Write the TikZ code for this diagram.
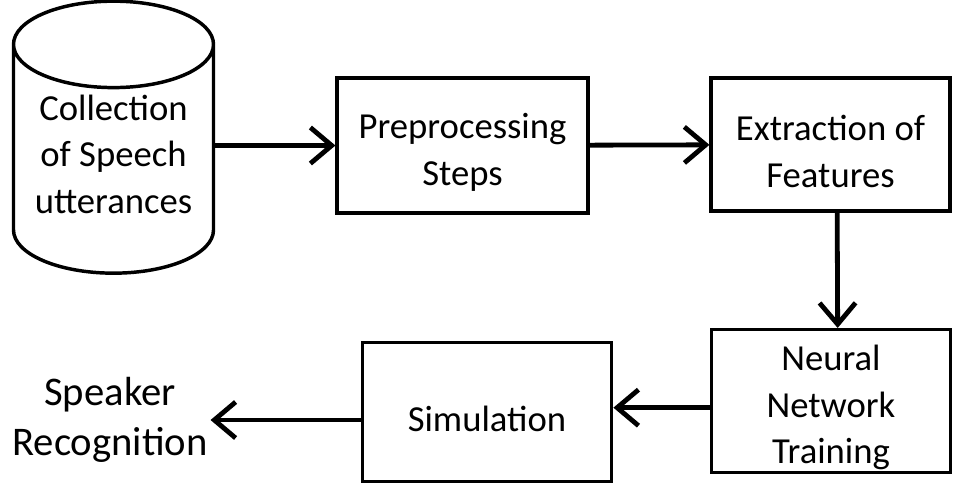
\documentclass[tikz,border=0pt]{standalone}
\usepackage{fontspec}
\setmainfont{Carlito}
\usetikzlibrary{positioning,arrows.meta,shapes.geometric}

\newcommand{\diagfont}{\fontsize{27.5}{35}\selectfont}
\newcommand{\resultfont}{\fontsize{30.5}{37.5}\selectfont}
% invisible struts that nudge the text lines down / up a little
\newcommand{\topgap}{\rule{0pt}{29pt}}
\newcommand{\bottomgap}{\rule[-18pt]{0pt}{18pt}}

\begin{document}
\begin{tikzpicture}[x=0.75pt, y=-0.75pt,
  box/.style={draw, line width=2.6pt, align=center, font=\diagfont, inner sep=0pt},
  flow/.style={-{Straight Barb[length=16pt, width=27pt]}, line width=3.6pt}]

\useasboundingbox (0,0) rectangle (962,487);

% Data source
\node[draw, cylinder, shape border rotate=90, aspect=0.52, minimum width=150pt, minimum height=204pt,
      line width=2.6pt, align=center, font=\diagfont] (coll) at (113.5,166) {Collection\\of Speech\\utterances\bottomgap};

% Processing stages
\node[box, minimum width=188pt, minimum height=101pt] (prep) at (462.5,145.5) {\topgap Preprocessing\\Steps};
\node[box, minimum width=179pt, minimum height=100pt] (extr) at (830.5,144.5) {\topgap Extraction of\\Features};
\node[box, minimum width=179pt, minimum height=107pt] (neural) at (831,401) {\topgap Neural\\Network\\Training};
\node[box, minimum width=187pt, minimum height=104pt] (sim) at (487,412) {\topgap Simulation};

% Result
\node[font=\resultfont, align=center, inner sep=2pt] (spk) at (110,420) {Speaker\\Recognition};

% Flow arrows
\draw[flow] (coll.east |- prep) -- (prep.west);
\draw[flow] (prep) -- (extr);
\draw[flow] ([xshift=5pt]extr.south) -- ([xshift=5pt]neural.north);
\draw[flow] ([yshift=-5pt]neural.west) -- ([yshift=-5pt]neural.west -| sim.east);
\draw[flow] (sim.west |- spk) -- (spk);

\end{tikzpicture}
\end{document}
